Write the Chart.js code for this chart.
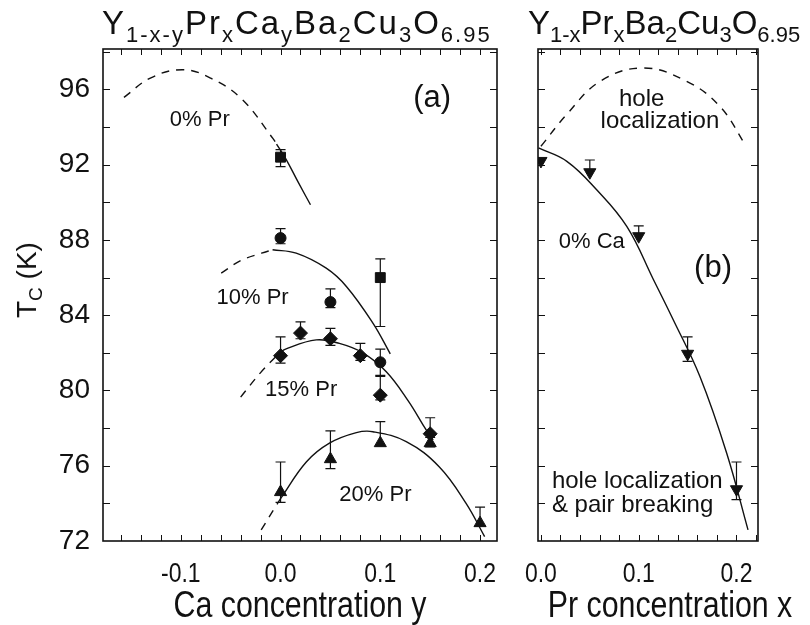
<!DOCTYPE html>
<html>
<head>
<meta charset="utf-8">
<script src="https://cdn.jsdelivr.net/npm/chart.js@4.4.1/dist/chart.umd.min.js"></script>
<style>
  body { margin: 0; background: #fff; }
  #page { position: relative; width: 810px; height: 625px; overflow: hidden; background: #fff; color: #111;
          font-family: "Liberation Sans", Arial, sans-serif; }
  #canvasA { position: absolute; left: 0; top: 0; }
  #canvasB { position: absolute; left: 505px; top: 0; }
  .formula { position: absolute; top: 6px; font-size: 33px; line-height: 33px; white-space: nowrap; }
  .formula span { font-size: 22px; position: relative; top: 8px; }
  #ytitle { position: absolute; left: 27px; top: 280px; font-size: 28px; white-space: nowrap;
            transform: translate(-50%, -50%) rotate(-90deg); }
  #ytitle span { font-size: 19px; position: relative; top: 6px; }
</style>
</head>
<body>
<div id="page">
  <canvas id="canvasA" width="510" height="625"></canvas>
  <canvas id="canvasB" width="305" height="625"></canvas>
  <div class="formula" id="formulaA" style="left:102px">Y<span>1-x-y</span>Pr<span>x</span>Ca<span>y</span>Ba<span>2</span>Cu<span>3</span>O<span>6.95</span></div>
  <div class="formula" id="formulaB" style="left:528px">Y<span>1-x</span>Pr<span>x</span>Ba<span>2</span>Cu<span>3</span>O<span>6.95</span></div>
  <div id="ytitle">T<span>C</span> (K)</div>
</div>
<script>
// axis tick labels
const caTicks = [-0.1, 0.0, 0.1, 0.2];
const prTicks = [0.0, 0.1, 0.2];
const tcTicks = [72, 76, 80, 84, 88, 92, 96];

// (a) measured Tc vs Ca content, with error bar ends
const pr0Ca = [0.0, 0.1];
const pr0Tc = [92.4, 86.0];
const pr0Lo = [91.9, 83.4];
const pr0Hi = [92.8, 87.0];

const pr10Ca = [0.0, 0.05, 0.1];
const pr10Tc = [88.1, 84.7, 81.5];
const pr10Lo = [87.8, 84.4, 80.8];
const pr10Hi = [88.6, 85.4, 82.2];

const pr15Ca = [0.0, 0.02, 0.05, 0.08, 0.1, 0.15];
const pr15Tc = [81.85, 83.05, 82.75, 81.85, 79.75, 77.7];
const pr15Lo = [81.45, 82.75, 82.4, 81.6, 79.5, 77.5];
const pr15Hi = [82.85, 83.65, 83.3, 82.5, 80.75, 78.55];

const pr20Ca = [0.0, 0.05, 0.1, 0.15, 0.2];
const pr20Tc = [74.6, 76.35, 77.2, 77.2, 72.95];
const pr20Lo = [74.05, 75.85, 77.2, 77.0, 72.95];
const pr20Hi = [76.2, 77.85, 78.35, 77.2, 73.8];

// (a) guide curves, dashed extrapolation + solid part
const pr0DashCa = [-0.157, -0.13, -0.098, -0.07, -0.039, -0.0077, -0.004];
const pr0DashTc = [95.58, 96.62, 97.05, 96.6, 95.5, 93.4, 93.1];
const pr0LineCa = [-0.004, 0.0057, 0.0174, 0.030];
const pr0LineTc = [93.1, 92.27, 91.1, 89.87];

const pr10DashCa = [-0.0595, -0.04, -0.019, -0.008];
const pr10DashTc = [86.24, 86.9, 87.3, 87.48];
const pr10LineCa = [-0.008, 0.0157, 0.0458, 0.066, 0.0926, 0.110];
const pr10LineTc = [87.48, 87.3, 86.5, 85.53, 83.58, 81.95];

const pr15DashCa = [-0.04, -0.02, -0.002];
const pr15DashTc = [79.65, 80.95, 81.95];
const pr15LineCa = [-0.002, 0.005, 0.0358, 0.059, 0.0825, 0.106, 0.128, 0.146, 0.153];
const pr15LineTc = [81.95, 82.2, 82.69, 82.5, 82.0, 81.0, 79.45, 77.9, 77.37];

const pr20DashCa = [-0.0194, -0.006, 0.0];
const pr20DashTc = [72.59, 73.74, 74.25];
const pr20LineCa = [0.0, 0.0258, 0.049, 0.076, 0.0926, 0.126, 0.159, 0.186, 0.2046];
const pr20LineTc = [74.25, 76.2, 77.2, 77.76, 77.81, 77.28, 75.95, 74.0, 72.23];

// (b) Tc vs Pr content at 0% Ca
const ca0Pr = [0.0, 0.05, 0.1, 0.15, 0.2];
const ca0Tc = [92.2, 91.6, 88.2, 81.95, 74.75];
const ca0Lo = [92.2, 91.6, 88.2, 81.55, 74.2];
const ca0Hi = [92.2, 92.25, 88.75, 82.85, 76.2];

const ca0LinePr = [-0.0025, 0.0265, 0.057, 0.0878, 0.115, 0.1353, 0.1626, 0.19, 0.2118];
const ca0LineTc = [92.89, 92.18, 90.67, 88.72, 85.9, 83.76, 80.74, 76.66, 72.59];
const holeDashPr = [0.0, 0.0262, 0.0605, 0.1047, 0.149, 0.183, 0.21];
const holeDashTc = [92.98, 94.66, 96.43, 97.14, 96.43, 95.1, 92.98];

const INK = '#111';
const SANS = '"Liberation Sans", Arial, sans-serif';
const TC_MAX = 98.15;
const SQUEEZE = 0.82;   // horizontal squeeze for the condensed x-axis lettering

function toPts(xs, ys) {
    return xs.map((x, i) => ({ x: x, y: ys[i] }));
}

function marks(xs, ys, lo, hi, style, radius, rotation) {
    return {
        data: toPts(xs, ys),
        errLo: lo,
        errHi: hi,
        showLine: false,
        pointStyle: style,
        pointRadius: radius,
        rotation: rotation || 0,
        backgroundColor: INK,
        borderColor: INK,
        borderWidth: 1
    };
}

function curve(xs, ys, dashed) {
    return {
        data: toPts(xs, ys),
        showLine: true,
        pointRadius: 0,
        borderColor: INK,
        borderWidth: 1.4,
        borderDash: dashed ? [8, 7] : [],
        tension: 0.4,
        fill: false
    };
}

// error bars drawn under the markers
const errorBars = {
    id: 'errorBars',
    beforeDatasetsDraw(chart) {
        const { ctx, scales: { x, y } } = chart;
        ctx.save();
        ctx.strokeStyle = INK;
        ctx.lineWidth = 1.2;
        chart.data.datasets.forEach(ds => {
            if (!ds.errLo) return;
            ds.data.forEach((p, i) => {
                const px = x.getPixelForValue(p.x);
                const lo = y.getPixelForValue(ds.errLo[i]);
                const hi = y.getPixelForValue(ds.errHi[i]);
                ctx.beginPath();
                ctx.moveTo(px, lo);
                ctx.lineTo(px, hi);
                if (ds.errHi[i] > p.y) { ctx.moveTo(px - 5, hi); ctx.lineTo(px + 5, hi); }
                if (ds.errLo[i] < p.y) { ctx.moveTo(px - 5, lo); ctx.lineTo(px + 5, lo); }
                ctx.stroke();
            });
        });
        ctx.restore();
    }
};

function squeezedText(ctx, text, cx, cy, size) {
    ctx.save();
    ctx.font = size + 'px ' + SANS;
    ctx.textAlign = 'center';
    ctx.textBaseline = 'middle';
    ctx.translate(cx, cy);
    ctx.scale(SQUEEZE, 1);
    ctx.fillText(text, 0, 0);
    ctx.restore();
}

// box with inward ticks on all four sides, x labels, notes and the x title
const frame = {
    id: 'frame',
    afterDraw(chart, args, opts) {
        const { ctx, chartArea: a, scales: { x, y } } = chart;
        ctx.save();
        ctx.strokeStyle = INK;
        ctx.lineWidth = 1;
        ctx.beginPath();
        for (let v = Math.ceil(x.min / 0.02 - 1e-6) * 0.02; v <= x.max + 1e-9; v += 0.02) {
            const px = Math.round(x.getPixelForValue(v)) + 0.5;
            ctx.moveTo(px, a.bottom); ctx.lineTo(px, a.bottom - 6);
            ctx.moveTo(px, a.top); ctx.lineTo(px, a.top + 6);
        }
        for (let v = 74; v < y.max; v += 2) {
            const py = Math.round(y.getPixelForValue(v)) + 0.5;
            ctx.moveTo(a.left, py); ctx.lineTo(a.left + 7, py);
            ctx.moveTo(a.right, py); ctx.lineTo(a.right - 7, py);
        }
        ctx.stroke();
        ctx.lineWidth = 1.6;
        ctx.strokeRect(a.left, a.top, a.right - a.left, a.bottom - a.top);

        ctx.fillStyle = INK;
        x.ticks.forEach(t => {
            squeezedText(ctx, t.value.toFixed(1), x.getPixelForValue(t.value), a.bottom + 33, 28);
        });
        if (opts.xTitle) {
            squeezedText(ctx, opts.xTitle.text, (a.left + a.right) / 2 + opts.xTitle.shift, a.bottom + 66, 37);
        }

        ctx.textBaseline = 'middle';
        (opts.notes || []).forEach(n => {
            ctx.font = n.size + 'px ' + SANS;
            ctx.textAlign = n.align || 'center';
            ctx.fillText(n.text, x.getPixelForValue(n.x), y.getPixelForValue(n.y));
        });
        ctx.restore();
    }
};

function xScale(min, max, ticks) {
    return {
        type: 'linear',
        min: min,
        max: max,
        afterBuildTicks: s => { s.ticks = ticks.map(v => ({ value: v })); },
        afterFit: s => { s.height = 84; },
        grid: { display: false, drawTicks: false },
        border: { display: false },
        ticks: { display: false }
    };
}

const common = {
    responsive: false,
    animation: false,
    events: [],
    plugins: { legend: { display: false }, tooltip: { enabled: false } }
};

// spread the two formula headings to their widths above the panels
function spread(id, width) {
    const el = document.getElementById(id);
    const gap = (width - el.offsetWidth) / el.textContent.length;
    el.style.letterSpacing = gap + 'px';
}

spread('formulaA', 390);
spread('formulaB', 272);

new Chart(document.getElementById('canvasA'), {
    type: 'scatter',
    data: {
        datasets: [
            curve(pr0DashCa, pr0DashTc, true),
            curve(pr0LineCa, pr0LineTc, false),
            curve(pr10DashCa, pr10DashTc, true),
            curve(pr10LineCa, pr10LineTc, false),
            curve(pr15DashCa, pr15DashTc, true),
            curve(pr15LineCa, pr15LineTc, false),
            curve(pr20DashCa, pr20DashTc, true),
            curve(pr20LineCa, pr20LineTc, false),
            marks(pr0Ca, pr0Tc, pr0Lo, pr0Hi, 'rect', 7),
            marks(pr10Ca, pr10Tc, pr10Lo, pr10Hi, 'circle', 5.5),
            marks(pr15Ca, pr15Tc, pr15Lo, pr15Hi, 'rectRot', 7),
            marks(pr20Ca, pr20Tc, pr20Lo, pr20Hi, 'triangle', 7)
        ]
    },
    options: Object.assign({}, common, {
        layout: { padding: { left: 0, right: 13, top: 49, bottom: 0 } },
        plugins: Object.assign({}, common.plugins, {
            frame: {
                xTitle: { text: 'Ca concentration y', shift: 0 },
                notes: [
                    { text: '(a)', x: 0.152, y: 95.5, size: 31 },
                    { text: '0% Pr', x: -0.081, y: 94.4, size: 22 },
                    { text: '10% Pr', x: -0.028, y: 84.91, size: 22 },
                    { text: '15% Pr', x: 0.0207, y: 80.03, size: 22 },
                    { text: '20% Pr', x: 0.0951, y: 74.45, size: 22 }
                ]
            }
        }),
        scales: {
            x: xScale(-0.178, 0.217, caTicks),
            y: {
                min: 72,
                max: TC_MAX,
                afterBuildTicks: s => { s.ticks = tcTicks.map(v => ({ value: v })); },
                afterFit: s => { s.width = 103; },
                grid: { display: false, drawTicks: false },
                border: { display: false },
                ticks: { color: INK, font: { family: SANS, size: 28 }, padding: 13 }
            }
        }
    }),
    plugins: [errorBars, frame]
});

const downTri = marks(ca0Pr, ca0Tc, ca0Lo, ca0Hi, 'triangle', 7, 180);
downTri.clip = 0;

new Chart(document.getElementById('canvasB'), {
    type: 'scatter',
    data: {
        datasets: [
            curve(holeDashPr, holeDashTc, true),
            curve(ca0LinePr, ca0LineTc, false),
            downTri
        ]
    },
    options: Object.assign({}, common, {
        layout: { padding: { left: 33, right: 52, top: 49, bottom: 0 } },
        plugins: Object.assign({}, common.plugins, {
            frame: {
                xTitle: { text: 'Pr concentration x', shift: 22 },
                notes: [
                    { text: 'hole', x: 0.103, y: 95.46, size: 24 },
                    { text: 'localization', x: 0.1217, y: 94.3, size: 24 },
                    { text: '0% Ca', x: 0.052, y: 87.92, size: 22 },
                    { text: '(b)', x: 0.176, y: 86.5, size: 31 },
                    { text: 'hole localization', x: 0.0112, y: 75.15, size: 24, align: 'left' },
                    { text: '& pair breaking', x: 0.0112, y: 73.9, size: 24, align: 'left' }
                ]
            }
        }),
        scales: {
            x: xScale(-0.003, 0.222, prTicks),
            y: { display: false, min: 72, max: TC_MAX }
        }
    }),
    plugins: [errorBars, frame]
});
</script>
</body>
</html>
